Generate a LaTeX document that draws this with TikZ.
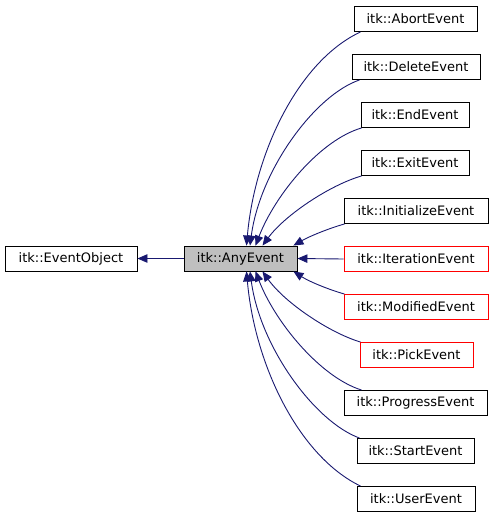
\documentclass[tikz,border=0pt]{standalone}
\usepackage{fontspec}
\setmainfont{DejaVu Sans}
\usetikzlibrary{arrows.meta,calc}
\definecolor{edgeblue}{HTML}{191970}
\definecolor{boxgray}{HTML}{BFBFBF}
\tikzset{
  cls/.style={draw=black,line width=0.9pt,minimum height=25pt,inner sep=0pt,font=\fontsize{13}{15}\selectfont,fill=white},
  redcls/.style={cls,draw=red},
  edge/.style={draw=edgeblue,line width=0.9pt,-{Triangle[length=10pt,width=8.5pt]}},
}
\begin{document}
\begin{tikzpicture}[x=1pt,y=-1pt]
\useasboundingbox (0,0) rectangle (493,515);
\node[cls,minimum width=132pt] (eo) at (71,258.5) {itk::EventObject};
\node[cls,fill=boxgray,minimum width=113pt] (any) at (240.5,258.5) {itk::AnyEvent};
\node[cls,minimum width=123pt] (abort) at (415.5,19) {itk::AbortEvent};
\node[cls,minimum width=128pt] (delete) at (416,67) {itk::DeleteEvent};
\node[cls,minimum width=108pt] (end) at (415,115) {itk::EndEvent};
\node[cls,minimum width=108pt] (exit) at (415,163) {itk::ExitEvent};
\node[cls,minimum width=144pt] (init) at (416,211) {itk::InitializeEvent};
\node[redcls,minimum width=144pt] (iter) at (416,259) {itk::IterationEvent};
\node[redcls,minimum width=144pt] (mod) at (416,307) {itk::ModifiedEvent};
\node[redcls,minimum width=113pt] (pick) at (416.5,355) {itk::PickEvent};
\node[cls,minimum width=143pt] (prog) at (415.5,403) {itk::ProgressEvent};
\node[cls,minimum width=117pt] (start) at (415.5,451) {itk::StartEvent};
\node[cls,minimum width=118pt] (user) at (416,499) {itk::UserEvent};

\draw[edge] (any.west) -- (eo.east);
\draw[edge] ($(abort.south west)+(7,0)$) .. controls (300,60) and (255,150) .. ($(any.north)+(6,0)$);
\draw[edge] ($(delete.south west)+(8,0)$) .. controls (315,95) and (260,170) .. ($(any.north)+(9.5,0)$);
\draw[edge] ($(end.south west)+(1,0)$) .. controls (320,140) and (275,195) .. ($(any.north)+(15,0)$);
\draw[edge] ($(exit.south west)+(1,0)$) .. controls (330,185) and (285,215) .. ($(any.north)+(22,0)$);
\draw[edge] ($(init.south west)+(1,0)$) .. controls (330,228) and (310,236) .. ($(any.north east)+(-4,0)$);
\draw[edge] (iter.west) -- (any.east);
\draw[edge] ($(mod.north west)+(1,0)$) .. controls (330,290) and (310,282) .. ($(any.south east)+(-4,0)$);
\draw[edge] ($(pick.north west)+(1,0)$) .. controls (330,333) and (285,303) .. ($(any.south)+(22,0)$);
\draw[edge] ($(prog.north west)+(18,0)$) .. controls (320,377) and (275,322) .. ($(any.south)+(15,0)$);
\draw[edge] ($(start.north west)+(3,0)$) .. controls (315,422) and (260,347) .. ($(any.south)+(9.5,0)$);
\draw[edge] ($(user.north west)+(4,0)$) .. controls (300,457) and (255,367) .. ($(any.south)+(6,0)$);
\end{tikzpicture}
\end{document}
